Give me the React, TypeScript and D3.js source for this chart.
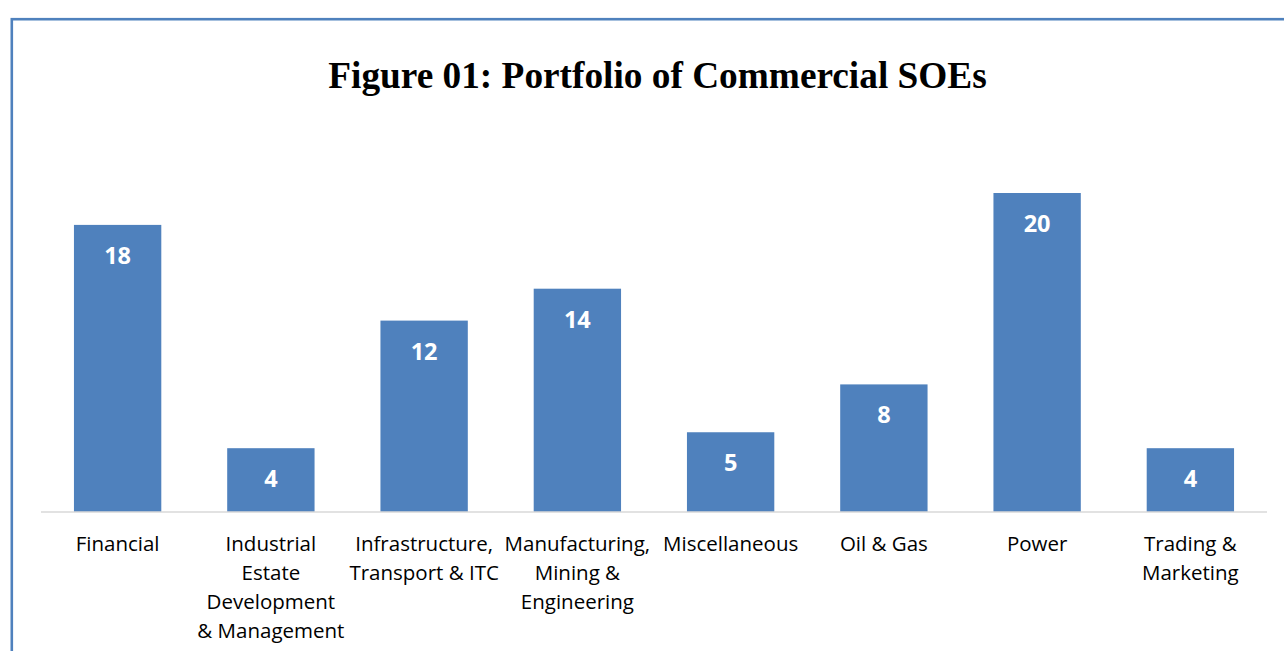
import React from 'react';
import * as d3 from 'd3';

const categories = [
  ['Financial'],
  ['Industrial', 'Estate', 'Development', '& Management'],
  ['Infrastructure,', 'Transport & ITC'],
  ['Manufacturing,', 'Mining &', 'Engineering'],
  ['Miscellaneous'],
  ['Oil & Gas'],
  ['Power'],
  ['Trading &', 'Marketing'],
];
const values = [18, 4, 12, 14, 5, 8, 20, 4];
const title = 'Figure 01: Portfolio of Commercial SOEs';

const width = 1284;
const height = 651;
const margin = { left: 41, right: 17, baseline: 512 };
const barColor = '#4F81BD';
const sansFont = "'Open Sans', 'Noto Sans', sans-serif";

export default function App() {
  const keys = categories.map((c, i) => String(i));
  const x = d3.scaleBand()
    .domain(keys)
    .range([margin.left, width - margin.right])
    .paddingInner(0.43)
    .paddingOuter(0.215);
  const y = d3.scaleLinear()
    .domain([0, 25])
    .range([margin.baseline, margin.baseline - 25 * 15.95]);

  return (
    <svg width={width} height={height} style={{ display: 'block', background: 'white', position: 'absolute', left: 0, top: 0 }}>
      {/* outer frame, cut off at right and bottom */}
      <rect x={11.8} y={19.2} width={width + 20} height={height + 20} fill="none" stroke={barColor} strokeWidth={2.6} />

      <text x={657.5} y={88} textAnchor="middle" fontFamily="'Liberation Serif', 'Times New Roman', serif" fontWeight="bold" fontSize={37.3} fill="#000">
        {title}
      </text>

      {values.map((v, i) => (
        <g key={i}>
          <rect x={x(keys[i])} y={y(v)} width={x.bandwidth()} height={y(0) - y(v)} fill={barColor} />
          <text x={x(keys[i])! + x.bandwidth() / 2} y={y(v) + 39} textAnchor="middle" fontFamily={sansFont} fontWeight="bold" fontSize={23.5} fill="#fff">
            {v}
          </text>
        </g>
      ))}

      <line x1={margin.left} x2={width - margin.right} y1={margin.baseline} y2={margin.baseline} stroke="#D9D9D9" strokeWidth={1.5} />

      {categories.map((lines, i) => (
        <text key={i} textAnchor="middle" fontFamily={sansFont} fontSize={20.5} fill="#000">
          {lines.map((ln, j) => (
            <tspan key={j} x={x(keys[i])! + x.bandwidth() / 2} y={551 + j * 29}>{ln}</tspan>
          ))}
        </text>
      ))}
    </svg>
  );
}
